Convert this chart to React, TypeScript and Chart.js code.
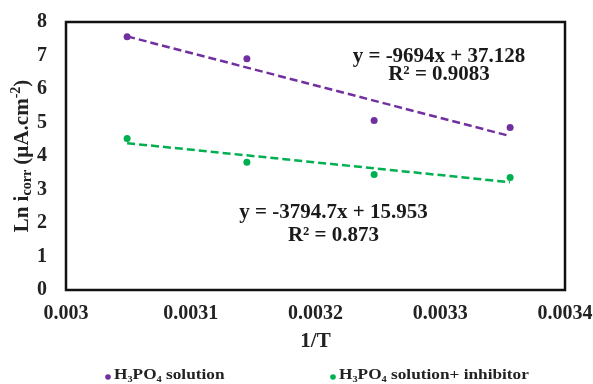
import React, { useEffect, useRef } from "react";
import { Chart, registerables } from "chart.js";

Chart.register(...registerables);

const invT = [0.003049, 0.003145, 0.003247, 0.003356];
const lnAcid = [7.56, 6.9, 5.06, 4.85];
const lnInhib = [4.52, 3.81, 3.45, 3.36];
const acidFit = { slope: -9694, intercept: 37.128, eq: "y = -9694x + 37.128", r2: "R² = 0.9083" };
const inhibFit = { slope: -3794.7, intercept: 15.953, eq: "y = -3794.7x + 15.953", r2: "R² = 0.873" };
const seriesNames = ["H₃PO₄ solution", "H₃PO₄ solution+ inhibitor"];
const xTitle = "1/T";
const PURPLE = "#7030A0";
const GREEN = "#00B050";
const FONT = "'Liberation Serif', 'Times New Roman', serif";

const fitLine = (f: { slope: number; intercept: number }) => [
  { x: invT[0], y: f.slope * invT[0] + f.intercept },
  { x: invT[invT.length - 1], y: f.slope * invT[invT.length - 1] + f.intercept },
];

const decorPlugin = {
  id: "decor",
  afterDatasetsDraw(chart: any) {
    const { ctx, chartArea: a, scales } = chart;
    const xs = scales.x;
    const ys = scales.y;
    ctx.save();
    // border
    ctx.strokeStyle = "#111";
    ctx.lineWidth = 2.5;
    ctx.strokeRect(a.left, a.top, a.right - a.left, a.bottom - a.top);
    // equations
    ctx.fillStyle = "#1a1a1a";
    ctx.font = `bold 21px ${FONT}`;
    ctx.textAlign = "center";
    ctx.textBaseline = "middle";
    ctx.fillText(acidFit.eq, xs.getPixelForValue(0.003299), ys.getPixelForValue(6.98));
    ctx.fillText(acidFit.r2, xs.getPixelForValue(0.003299), ys.getPixelForValue(6.42));
    ctx.fillText(inhibFit.eq, xs.getPixelForValue(0.0032144), ys.getPixelForValue(2.32));
    ctx.fillText(inhibFit.r2, xs.getPixelForValue(0.0032144), ys.getPixelForValue(1.61));

    // x title
    ctx.font = `bold 21px ${FONT}`;
    ctx.fillStyle = "#222";
    ctx.fillText(xTitle, (a.left + a.right) / 2, 342);

    // y title with sub/superscript
    const cy = (a.top + a.bottom) / 2;
    ctx.translate(23, cy);
    ctx.rotate(-Math.PI / 2);
    const big = `bold 21px ${FONT}`;
    const small = `bold 14px ${FONT}`;
    const parts = [
      { t: "Ln i", f: big, dy: 0 },
      { t: "corr", f: small, dy: 4 },
      { t: " (µA.cm", f: big, dy: 0 },
      { t: "-2", f: small, dy: -7 },
      { t: ")", f: big, dy: 0 },
    ];
    let total = 0;
    for (const p of parts) {
      ctx.font = p.f;
      total += ctx.measureText(p.t).width;
    }
    let x = -total / 2;
    ctx.textAlign = "left";
    for (const p of parts) {
      ctx.font = p.f;
      ctx.fillText(p.t, x, p.dy);
      x += ctx.measureText(p.t).width;
    }
    ctx.restore();

    // legend
    const ly = 375;
    const items = [
      { x: 108, c: PURPLE, t: seriesNames[0] },
      { x: 333, c: GREEN, t: seriesNames[1] },
    ];
    for (const it of items) {
      ctx.save();
      ctx.fillStyle = it.c;
      ctx.beginPath();
      ctx.arc(it.x, ly + 2, 2.8, 0, Math.PI * 2);
      ctx.fill();
      ctx.translate(it.x + 6, ly);
      ctx.scale(1.15, 1);
      ctx.font = `bold 15px ${FONT}`;
      ctx.textBaseline = "middle";
      ctx.textAlign = "left";
      ctx.fillStyle = "#222";
      ctx.fillText(it.t, 0, 0);
      ctx.restore();
    }
  },
};

export default function App() {
  const ref = useRef<HTMLCanvasElement>(null);
  useEffect(() => {
    document.body.style.margin = "0";
    const chart = new Chart(ref.current!, {
      type: "scatter",
      data: {
        datasets: [
          {
            label: seriesNames[0],
            data: invT.map((x, i) => ({ x, y: lnAcid[i] })),
            backgroundColor: PURPLE,
            borderColor: PURPLE,
            pointRadius: 3.5,
            pointBorderWidth: 0,
          },
          {
            label: seriesNames[1],
            data: invT.map((x, i) => ({ x, y: lnInhib[i] })),
            backgroundColor: GREEN,
            borderColor: GREEN,
            pointRadius: 3.5,
            pointBorderWidth: 0,
          },
          {
            type: "line",
            label: "fit1",
            data: fitLine(acidFit),
            borderColor: PURPLE,
            borderWidth: 2.5,
            borderDash: [8, 4],
            pointRadius: 0,
            showLine: true,
          } as any,
          {
            type: "line",
            label: "fit2",
            data: fitLine(inhibFit),
            borderColor: GREEN,
            borderWidth: 2.5,
            borderDash: [8, 4],
            pointRadius: 0,
            showLine: true,
          } as any,
        ],
      },
      options: {
        responsive: false,
        animation: false,
        layout: { padding: { top: 22, right: 28, left: 0, bottom: 0 } },
        plugins: { legend: { display: false }, tooltip: { enabled: false } },
        scales: {
          x: {
            type: "linear",
            min: 0.003,
            max: 0.0034,
            grid: { display: false, drawTicks: false },
            border: { display: false },
            ticks: {
              stepSize: 0.0001,
              padding: 12,
              color: "#222",
              font: { family: FONT, size: 20, weight: "bold" },
              callback: (v: any) => String(Number(v.toFixed(4))),
            },
            afterFit: (s: any) => {
              s.height = 94;
              s.paddingLeft = 0;
              s.paddingRight = 0;
            },
          },
          y: {
            min: 0,
            max: 8,
            grid: { display: false, drawTicks: false },
            border: { display: false },
            ticks: {
              stepSize: 1,
              padding: 19,
              color: "#222",
              font: { family: FONT, size: 20, weight: "bold" },
            },
            afterFit: (s: any) => {
              s.width = 66;
              s.paddingTop = 0;
              s.paddingBottom = 0;
            },
          },
        },
      },
      plugins: [decorPlugin],
    } as any);
    return () => chart.destroy();
  }, []);
  return <canvas ref={ref} width={593} height={384} style={{ display: "block" }} />;
}
